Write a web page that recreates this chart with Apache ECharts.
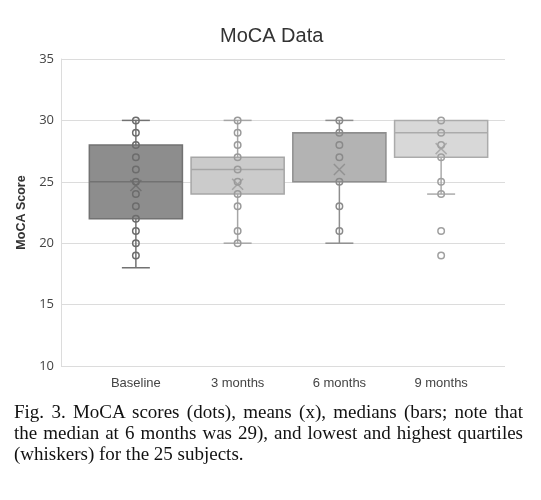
<!DOCTYPE html>
<html>
<head>
<meta charset="utf-8">
<script src="https://cdn.jsdelivr.net/npm/echarts@6/dist/echarts.min.js"></script>
<style>
html,body{margin:0;padding:0;background:#fff;}
#chart{position:absolute;left:0;top:0;width:541px;height:500px;}
#cap{position:absolute;left:14px;top:401px;width:509px;font-family:"Liberation Serif","Times New Roman",serif;font-size:19px;line-height:21px;color:#111;}
#cap span{display:block;white-space:nowrap;}
#cap span.j{text-align:justify;text-align-last:justify;white-space:normal;}
</style>
</head>
<body>
<div id="chart"></div>
<div id="cap"><span class="j">Fig. 3. MoCA scores (dots), means (x), medians (bars; note that</span><span class="j">the median at 6 months was 29), and lowest and highest quartiles</span><span>(whiskers) for the 25 subjects.</span></div>
<script>
const categories = ['Baseline', '3 months', '6 months', '9 months'];
// [min, Q1, median, Q3, max]
const boxStats = [
  [18, 22, 25, 28, 30],
  [20, 24, 26, 27, 30],
  [20, 25, 29, 29, 30],
  [24, 27, 29, 30, 30]
];
const means = [24.7, 24.8, 26.0, 27.7];
const dotsBaseline = [19, 20, 21, 22, 23, 24, 25, 26, 27, 28, 29, 30];
const dots3m = [20, 21, 23, 24, 25, 26, 27, 28, 29, 30];
const dots6m = [21, 23, 25, 27, 28, 29, 30];
const dots9m = [19, 21, 24, 25, 27, 28, 29, 30];
const yTicks = [10, 15, 20, 25, 30, 35];

const boxFill = ['#8d8d8d', '#cbcbcb', '#b3b3b3', '#d8d8d8'];
const boxLine = ['#727272', '#a6a6a6', '#8e8e8e', '#ababab'];
const dotColor = ['#6c6c6c', '#9a9a9a', '#8a8a8a', '#a0a0a0'];

const allDots = [dotsBaseline, dots3m, dots6m, dots9m];
const dotData = [];
allDots.forEach((arr, i) => arr.forEach(v => dotData.push({value: [i, v], itemStyle: {borderColor: dotColor[i]}})));

const chart = echarts.init(document.getElementById('chart'), null, {renderer: 'canvas'});
chart.setOption({
  animation: false,
  backgroundColor: '#fff',
  title: {
    text: 'MoCA Data', left: 215, top: 21,
    textStyle: {fontFamily: 'Liberation Sans', fontSize: 20, fontWeight: 'normal', color: '#333'}
  },
  grid: [
    {left: 61, right: 36, top: 59, bottom: 134},
    {left: 85, right: 49, top: 59, bottom: 134}
  ],
  xAxis: [
    {gridIndex: 0, type: 'value', min: 0, max: 1, show: false},
    {gridIndex: 1, type: 'category', data: categories, boundaryGap: true,
     axisLine: {show: false}, axisTick: {show: false},
     axisLabel: {margin: 11, fontFamily: 'Liberation Sans', fontSize: 13, color: '#444'}}
  ],
  yAxis: [
    {gridIndex: 0, type: 'value', min: 10, max: 35, interval: 5,
     name: 'MoCA Score', nameLocation: 'middle', nameGap: 33, nameRotate: 90,
     nameTextStyle: {fontFamily: 'Liberation Sans', fontSize: 12.5, fontWeight: 'bold', color: '#333'},
     axisLine: {show: true, lineStyle: {color: '#dcdcdc'}}, axisTick: {show: false},
     axisLabel: {margin: 7, fontFamily: 'Open Sans', fontSize: 13, color: '#444', padding: [3, 0, 0, 0],
       formatter: v => yTicks.includes(v) ? String(v) : ''},
     splitLine: {show: true, lineStyle: {color: '#dcdcdc', width: 1}}},
    {gridIndex: 1, type: 'value', min: 10, max: 35, interval: 5, show: false, splitLine: {show: false}}
  ],
  series: [
    {
      type: 'custom', xAxisIndex: 1, yAxisIndex: 1,
      data: boxStats.map((s, i) => [i].concat(s)),
      renderItem: function (params, api) {
        const i = api.value(0);
        const x = api.coord([i, 0])[0];
        const yMin = api.coord([i, api.value(1)])[1];
        const yQ1 = api.coord([i, api.value(2)])[1];
        const yMed = api.coord([i, api.value(3)])[1];
        const yQ3 = api.coord([i, api.value(4)])[1];
        const yMax = api.coord([i, api.value(5)])[1];
        const bw = api.size([1, 0])[0] * 0.915;
        const cap = 28;
        const ls = {stroke: boxLine[i], lineWidth: 1.5};
        const children = [];
        children.push({type: 'line', shape: {x1: x, y1: yMin, x2: x, y2: yQ1}, style: ls});
        children.push({type: 'line', shape: {x1: x, y1: yQ3, x2: x, y2: yMax}, style: ls});
        if (Math.abs(yMin - yQ1) > 1) children.push({type: 'line', shape: {x1: x - cap / 2, y1: yMin, x2: x + cap / 2, y2: yMin}, style: ls});
        if (Math.abs(yMax - yQ3) > 1) children.push({type: 'line', shape: {x1: x - cap / 2, y1: yMax, x2: x + cap / 2, y2: yMax}, style: ls});
        children.push({type: 'rect', shape: {x: x - bw / 2, y: yQ3, width: bw, height: yQ1 - yQ3},
          style: {fill: boxFill[i], stroke: boxLine[i], lineWidth: 1.5}});
        children.push({type: 'line', shape: {x1: x - bw / 2, y1: yMed, x2: x + bw / 2, y2: yMed}, style: ls});
        return {type: 'group', children: children};
      },
      z: 2
    },
    {
      type: 'scatter', xAxisIndex: 1, yAxisIndex: 1,
      data: dotData,
      symbol: 'circle', symbolSize: 6.5,
      itemStyle: {color: 'rgba(0,0,0,0)', borderWidth: 1.5, opacity: 1},
      z: 3
    },
    {
      type: 'scatter', xAxisIndex: 1, yAxisIndex: 1,
      data: means.map((m, i) => ({value: [i, m], itemStyle: {borderColor: dotColor[i]}})),
      symbol: 'path://M0,0L10,10M10,0L0,10', symbolSize: [11, 11],
      itemStyle: {color: 'rgba(0,0,0,0)', borderWidth: 1.5},
      z: 4
    }
  ]
});
</script>
</body>
</html>
